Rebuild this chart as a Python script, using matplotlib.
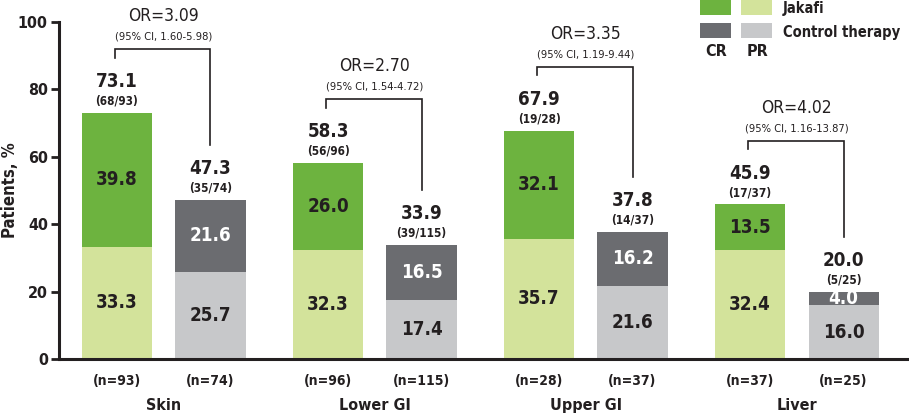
import matplotlib
matplotlib.use("Agg")
import matplotlib.pyplot as plt
from matplotlib.patches import Rectangle
import numpy as np

plt.rcParams['font.family'] = ['DejaVu Sans']
plt.rcParams['font.stretch'] = 'condensed'

categories = ['Skin', 'Lower GI', 'Upper GI', 'Liver']
jak_cr = [39.8, 26.0, 32.1, 13.5]
jak_pr = [33.3, 32.3, 35.7, 32.4]
jak_total = [73.1, 58.3, 67.9, 45.9]
jak_frac = ['68/93', '56/96', '19/28', '17/37']
jak_n = [93, 96, 28, 37]
ctl_cr = [21.6, 16.5, 16.2, 4.0]
ctl_pr = [25.7, 17.4, 21.6, 16.0]
ctl_total = [47.3, 33.9, 37.8, 20.0]
ctl_frac = ['35/74', '39/115', '14/37', '5/25']
ctl_n = [74, 115, 37, 25]
or_vals = ['3.09', '2.70', '3.35', '4.02']
ci_vals = ['1.60-5.98', '1.54-4.72', '1.19-9.44', '1.16-13.87']
yticks = [0, 20, 40, 60, 80, 100]

C_JCR = '#6db33f'
C_JPR = '#d3e39b'
C_CCR = '#6b6c70'
C_CPR = '#c7c8ca'
TXT = '#231f20'

fig = plt.figure(figsize=(9.09, 4.15), dpi=100)
ax = fig.add_axes([59/909, 56/415, 849/909, 337/415])

spacing = 2.257
jx = np.arange(len(categories)) * spacing
cx = jx + 1.0
w = 0.75

ax.bar(jx, jak_pr, w, color=C_JPR, linewidth=0)
ax.bar(jx, jak_cr, w, bottom=jak_pr, color=C_JCR, linewidth=0)
ax.bar(cx, ctl_pr, w, color=C_CPR, linewidth=0)
ax.bar(cx, ctl_cr, w, bottom=ctl_pr, color=C_CCR, linewidth=0)

seg_fs = 13.5
for i in range(len(categories)):
    ax.text(jx[i], jak_pr[i] / 2, f"{jak_pr[i]:.1f}", ha='center', va='center',
            fontsize=seg_fs, fontweight='bold', color=TXT)
    ax.text(jx[i], jak_pr[i] + jak_cr[i] / 2, f"{jak_cr[i]:.1f}", ha='center', va='center',
            fontsize=seg_fs, fontweight='bold', color=TXT)
    ax.text(cx[i], ctl_pr[i] / 2, f"{ctl_pr[i]:.1f}", ha='center', va='center',
            fontsize=seg_fs, fontweight='bold', color=TXT)
    ax.text(cx[i], ctl_pr[i] + ctl_cr[i] / 2, f"{ctl_cr[i]:.1f}", ha='center', va='center',
            fontsize=seg_fs, fontweight='bold', color='white')
    for x, t, fr in ((jx[i], jak_total[i], jak_frac[i]), (cx[i], ctl_total[i], ctl_frac[i])):
        ax.text(x, t + 9.2, f"{t:.1f}", ha='center', va='center', fontsize=13.5,
                fontweight='bold', color=TXT, clip_on=False)
        ax.text(x, t + 3.4, f"({fr})", ha='center', va='center', fontsize=8.5,
                fontweight='bold', color=TXT, clip_on=False)
    top = jak_total[i] + 18.8
    ax.plot([jx[i] - 0.02, jx[i] - 0.02, cx[i], cx[i]],
            [top - 2.5, top, top, ctl_total[i] + 16.2],
            color=TXT, lw=1.2, clip_on=False, solid_joinstyle='miter')
    mid = (jx[i] + cx[i]) / 2
    ax.text(mid, top + 9.8, f"OR={or_vals[i]}", ha='center', va='center',
            fontsize=12.5, color=TXT, clip_on=False)
    ax.text(mid, top + 3.8, f"(95% CI, {ci_vals[i]})", ha='center', va='center',
            fontsize=8, color=TXT, clip_on=False)
    ax.text(jx[i], -6.6, f"(n={jak_n[i]})", ha='center', va='center', fontsize=10,
            fontweight='bold', color=TXT, clip_on=False)
    ax.text(cx[i], -6.6, f"(n={ctl_n[i]})", ha='center', va='center', fontsize=10,
            fontweight='bold', color=TXT, clip_on=False)
    ax.text(mid, -13.7, categories[i], ha='center', va='center', fontsize=11.5,
            fontweight='bold', color=TXT, clip_on=False)

ax.set_xlim(-0.62, 8.46)
ax.set_ylim(0, 100)
ax.set_yticks(yticks)
ax.set_yticklabels([str(v) for v in yticks], fontsize=11.5, fontweight='bold', color=TXT)
ax.set_xticks([])
ax.tick_params(axis='y', direction='out', length=6, width=2, color=TXT, pad=2)
for s in ['top', 'right']:
    ax.spines[s].set_visible(False)
for s in ['left', 'bottom']:
    ax.spines[s].set_linewidth(2.2)
    ax.spines[s].set_color(TXT)
ax.set_ylabel('Patients, %', fontsize=12, fontweight='bold', color=TXT)
ax.yaxis.set_label_coords(-0.047, 0.5)

def fig_rect(x0, y0, x1, y1, color):
    fig.add_artist(Rectangle((x0 / 909, 1 - y1 / 415), (x1 - x0) / 909, (y1 - y0) / 415,
                             transform=fig.transFigure, color=color, linewidth=0))

fig_rect(700, 0, 731, 15, C_JCR)
fig_rect(741, 0, 772, 15, C_JPR)
fig_rect(700, 23, 731, 38, C_CCR)
fig_rect(741, 23, 772, 38, C_CPR)
fig.text(783 / 909, 1 - 9 / 415, 'Jakafi', ha='left', va='center', fontsize=10.5,
         fontweight='bold', color=TXT)
fig.text(783 / 909, 1 - 33 / 415, 'Control therapy', ha='left', va='center', fontsize=10.5,
         fontweight='bold', color=TXT)
fig.text(716 / 909, 1 - 52 / 415, 'CR', ha='center', va='center', fontsize=11.5,
         fontweight='bold', color=TXT)
fig.text(757 / 909, 1 - 52 / 415, 'PR', ha='center', va='center', fontsize=11.5,
         fontweight='bold', color=TXT)

fig.savefig('out.png', dpi=100)
